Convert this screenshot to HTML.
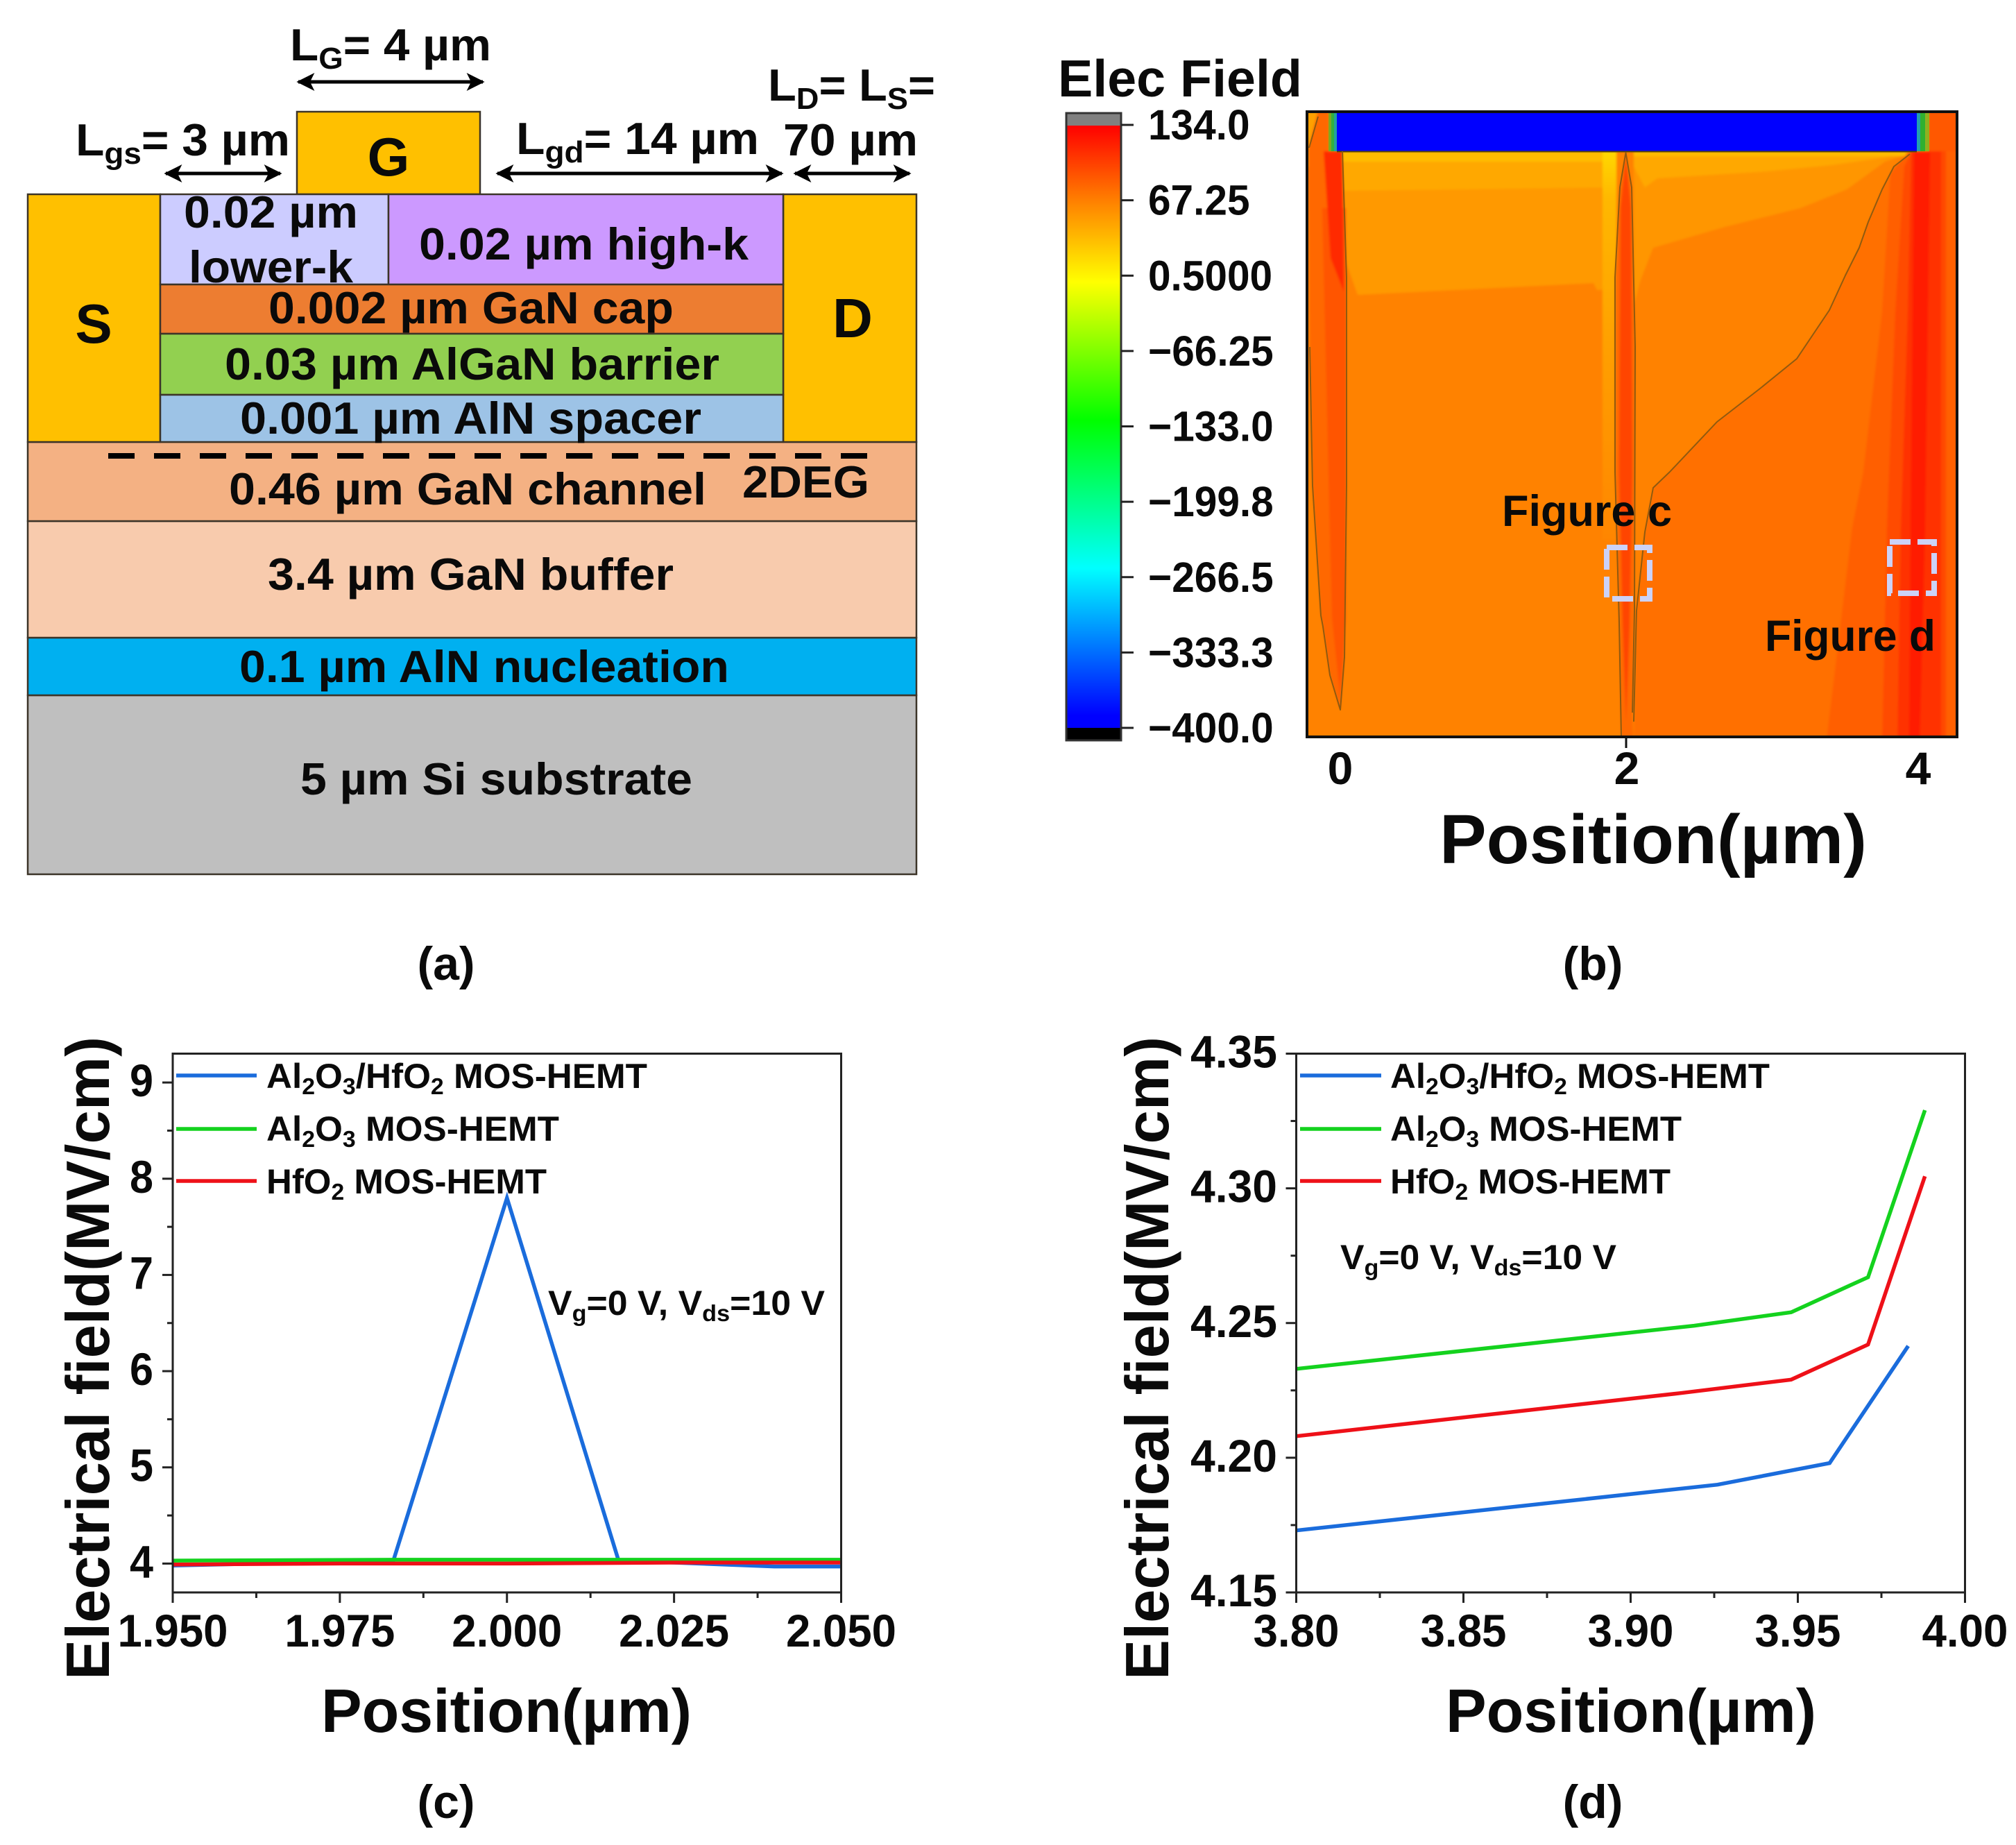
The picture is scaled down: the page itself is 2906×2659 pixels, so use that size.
<!DOCTYPE html>
<html lang="en">
<head>
<meta charset="utf-8">
<title>MOS-HEMT structure and electric field</title>
<style>
html,body{margin:0;padding:0;background:#fff;}
svg{display:block;}
text{font-family:"Liberation Sans",Arial,sans-serif;font-weight:bold;fill:#0a0a0a;}
</style>
</head>
<body>
<svg id="figure" xmlns="http://www.w3.org/2000/svg" width="2906" height="2659" viewBox="0 0 2906 2659">
<defs>
<marker id="arrow-head" viewBox="0 0 10 10" refX="9" refY="5" markerUnits="userSpaceOnUse" markerWidth="28" markerHeight="26" orient="auto-start-reverse"><path d="M0,0 L10,5 L0,10 L2.5,5 Z" fill="#000"/></marker>
<linearGradient id="colorbar-gradient" x1="0" y1="0" x2="0" y2="1">
<stop offset="0" stop-color="#ff0000"/><stop offset="0.125" stop-color="#ff8000"/><stop offset="0.26" stop-color="#ffff00"/><stop offset="0.49" stop-color="#00ff00"/><stop offset="0.735" stop-color="#00ffff"/><stop offset="0.98" stop-color="#0000ff"/><stop offset="1" stop-color="#0000ff"/>
</linearGradient>
<linearGradient id="yellow-strip" x1="0" y1="0" x2="0" y2="1">
<stop offset="0" stop-color="#ffd800"/><stop offset="0.12" stop-color="#ffb800"/><stop offset="0.5" stop-color="#ffa000"/><stop offset="1" stop-color="#ff8600"/>
</linearGradient>
<clipPath id="heatmap-clip"><rect x="1884" y="161" width="937" height="901"/></clipPath>
<filter id="soft-edges" x="-2%" y="-2%" width="104%" height="104%"><feGaussianBlur stdDeviation="1.6"/></filter>
</defs>

<g id="panel-a" stroke="#3c3428" stroke-width="2.5">
<rect x="40" y="1002" width="1281" height="258" fill="#bfbfbf"/>
<rect x="40" y="919" width="1281" height="83" fill="#00b0f0"/>
<rect x="40" y="751" width="1281" height="168" fill="#f8cbad"/>
<rect x="40" y="637" width="1281" height="114" fill="#f4b183"/>
<rect x="40" y="280" width="191" height="357" fill="#ffc000"/>
<rect x="1129" y="280" width="192" height="357" fill="#ffc000"/>
<rect x="428" y="161" width="264" height="119" fill="#ffc000"/>
<rect x="231" y="280" width="329" height="130" fill="#ccccff"/>
<rect x="560" y="280" width="569" height="130" fill="#cc99ff"/>
<rect x="231" y="410" width="898" height="71" fill="#ed7d31"/>
<rect x="231" y="481" width="898" height="88" fill="#92d050"/>
<rect x="231" y="569" width="898" height="68" fill="#9dc3e6"/>
</g>
<line x1="156" y1="657" x2="1250" y2="657" stroke="#000" stroke-width="8" stroke-dasharray="38 28"/>
<g stroke="#000" stroke-width="5">
<line x1="430" y1="118" x2="696" y2="118" marker-start="url(#arrow-head)" marker-end="url(#arrow-head)"/>
<line x1="239" y1="250" x2="404" y2="250" marker-start="url(#arrow-head)" marker-end="url(#arrow-head)"/>
<line x1="717" y1="250" x2="1127" y2="250" marker-start="url(#arrow-head)" marker-end="url(#arrow-head)"/>
<line x1="1146" y1="250" x2="1311" y2="250" marker-start="url(#arrow-head)" marker-end="url(#arrow-head)"/>
</g>
<g font-size="65">
<text x="418" y="87" textLength="290" lengthAdjust="spacingAndGlyphs">L<tspan font-size="44" dy="12">G</tspan><tspan dy="-12">= 4 µm</tspan></text>
<text x="109" y="224" textLength="309" lengthAdjust="spacingAndGlyphs">L<tspan font-size="44" dy="12">gs</tspan><tspan dy="-12">= 3 µm</tspan></text>
<text x="744" y="222" textLength="350" lengthAdjust="spacingAndGlyphs">L<tspan font-size="44" dy="12">gd</tspan><tspan dy="-12">= 14 µm</tspan></text>
<text x="1107" y="145" textLength="241" lengthAdjust="spacingAndGlyphs">L<tspan font-size="44" dy="12">D</tspan><tspan dy="-12">= L</tspan><tspan font-size="44" dy="12">S</tspan><tspan dy="-12">=</tspan></text>
<text x="1129" y="224" textLength="194" lengthAdjust="spacingAndGlyphs">70 µm</text>
<text x="560" y="253" font-size="78" text-anchor="middle">G</text>
<text x="135" y="494" font-size="80" text-anchor="middle">S</text>
<text x="1229" y="486" font-size="80" text-anchor="middle">D</text>
<text x="265" y="328" textLength="251" lengthAdjust="spacingAndGlyphs">0.02 µm</text>
<text x="272" y="407" textLength="237" lengthAdjust="spacingAndGlyphs">lower-k</text>
<text x="604" y="374" textLength="475" lengthAdjust="spacingAndGlyphs">0.02 µm high-k</text>
<text x="387" y="466" textLength="584" lengthAdjust="spacingAndGlyphs">0.002 µm GaN cap</text>
<text x="324" y="547" textLength="713" lengthAdjust="spacingAndGlyphs">0.03 µm AlGaN barrier</text>
<text x="346" y="625" textLength="665" lengthAdjust="spacingAndGlyphs">0.001 µm AlN spacer</text>
<text x="330" y="727" textLength="688" lengthAdjust="spacingAndGlyphs">0.46 µm GaN channel</text>
<text x="1070" y="717" textLength="183" lengthAdjust="spacingAndGlyphs">2DEG</text>
<text x="386" y="850" textLength="585" lengthAdjust="spacingAndGlyphs">3.4 µm GaN buffer</text>
<text x="345" y="983" textLength="706" lengthAdjust="spacingAndGlyphs">0.1 µm AlN nucleation</text>
<text x="433" y="1145" textLength="565" lengthAdjust="spacingAndGlyphs">5 µm Si substrate</text>
</g>

<g id="panel-b">
<text x="1525" y="139" font-size="75" textLength="352" lengthAdjust="spacingAndGlyphs">Elec Field</text>
<rect x="1537" y="163" width="79" height="18" fill="#808080"/>
<rect x="1537" y="181" width="79" height="868" fill="url(#colorbar-gradient)"/>
<rect x="1537" y="1049" width="79" height="18" fill="#000"/>
<rect x="1537" y="163" width="79" height="904" fill="none" stroke="#333" stroke-width="3"/>
<g id="colorbar-ticks"></g>

<g clip-path="url(#heatmap-clip)">
<g filter="url(#soft-edges)">
<rect x="1870" y="150" width="965" height="925" fill="#ff8200"/>
<path d="M1870,150 L1902,150 L1887,213 L1887,240 L1870,240 Z" fill="#ffa000"/>
<path d="M1935,218 L2329,218 L2329,417 L2302,418 L2297,408 L1957,425 L1941,380 Z" fill="#ff9900"/>
<path d="M1935,218 L2329,218 L2329,270 L1936,275 Z" fill="#ffa800"/>
<rect x="1935" y="218" width="394" height="15" fill="#ffbc00"/>
<path d="M2355,218 L2756,218 L2750,222 L2717,233 L2662,273 L2595,300 L2486,327 L2383,357 L2365,403 L2355,440 Z" fill="#ff9600"/>
<path d="M2355,218 L2756,218 L2717,227 L2640,238 L2547,247 L2389,257 L2371,270 L2355,240 Z" fill="#ffa800"/>
<rect x="2355" y="218" width="392" height="7" fill="#ffbc00"/>
<rect x="2310" y="218" width="20" height="560" fill="url(#yellow-strip)"/>
<path d="M2760,218 L2753,222 L2730,240 L2713,273 L2693,320 L2680,357 L2660,397 L2637,447 L2590,517 L2537,560 L2475,608 L2407,680 L2383,703 L2371,767 L2359,880 L2355,1075 L2835,1075 L2835,218 Z" fill="#ff7000"/>
<path d="M2752,218 L2725,250 L2713,450 L2686,680 L2670,760 L2632,1075 L2835,1075 L2835,218 Z" fill="#ff5e00"/>
<path d="M2756,218 L2745,240 L2732,450 L2720,760 L2713,1075 L2835,1075 L2835,218 Z" fill="#ff4c00"/>
<rect x="2780" y="150" width="55" height="925" fill="#ff4800"/>
<rect x="2805" y="150" width="30" height="925" fill="#ff6000"/>
<path d="M2755,218 L2750,450 L2740,760 L2735,1075 L2798,1075 L2798,218 Z" fill="#ff3200"/>
<path d="M2759,218 L2782,218 L2775,760 L2767,1075 L2752,1075 L2754,760 Z" fill="#ff1c00"/>
<path d="M2780,150 L2835,150 L2835,218 L2780,218 Z" fill="#ff5800"/>
<path d="M1902,150 L1886,213 L1888,500 L1892,700 L1904,887 L1907,903 L1917,973 L1932,1023 L1938,947 L1941,700 L1941,400 L1935,218 L1915,218 L1915,150 Z" fill="#ff6800"/>
<path d="M1906,300 L1940,300 L1940,890 L1932,1005 L1920,890 Z" fill="#ff5400"/>
<path d="M1908,218 L1935,218 L1937,420 L1918,372 Z" fill="#ff2c00"/>
<path d="M2343.5,220 L2335,270 L2328,400 L2328,680 L2334,897 L2337,1075 L2355,1075 L2353,1027 L2356,880 L2357,500 L2352,270 Z" fill="#ff6a00"/>
<path d="M2343.5,226 L2336,300 L2334,680 L2339,900 L2344,1040 L2349,900 L2353,680 L2351,300 Z" fill="#ff4400"/>
</g>
<rect x="1927" y="161" width="836" height="57" fill="#0000ff"/>
<rect x="1915" y="161" width="4" height="57" fill="#80a820"/>
<rect x="1919" y="161" width="4" height="57" fill="#30b040"/>
<rect x="1923" y="161" width="4" height="57" fill="#20a0a0"/>
<rect x="2763" y="161" width="5" height="57" fill="#20a0b0"/>
<rect x="2768" y="161" width="7" height="57" fill="#30b030"/>
<rect x="2775" y="161" width="6" height="57" fill="#90b020"/>
<line x1="1927" y1="218.5" x2="2763" y2="218.5" stroke="#5a4800" stroke-width="2"/>
<g fill="none" stroke="#8f5a10" stroke-width="2" stroke-linejoin="round">
<path d="M1900,168 L1887,213 M1888,500 L1892,700 L1904,887 L1907,903 L1917,973 L1932,1023 L1938,947 L1941,700 L1941,400 L1935,218"/>
<path d="M2337,1062 L2334,897 L2328,680 L2328,400 L2335,270 L2343.5,220 L2352,270 L2357,500 L2356,880 L2353,1027"/>
<path d="M2753,222 L2730,240 L2713,273 L2693,320 L2680,357 L2660,397 L2637,447 L2590,517 L2537,560 L2475,608 L2407,680 L2383,703 L2371,767 L2359,880 L2355,1040"/>
</g>
<rect x="2316" y="789" width="62" height="74" fill="none" stroke="#ccd2f8" stroke-width="8" stroke-dasharray="30 10"/>
<rect x="2724" y="781" width="64" height="74" fill="none" stroke="#ccd2f8" stroke-width="8" stroke-dasharray="30 10"/>
<text x="2165" y="758" font-size="63" textLength="245" lengthAdjust="spacingAndGlyphs">Figure c</text>
<text x="2544" y="938" font-size="63" textLength="246" lengthAdjust="spacingAndGlyphs">Figure d</text>
</g>
<rect x="1884" y="161" width="937" height="901" fill="none" stroke="#111" stroke-width="4"/>
<line x1="2344" y1="1062" x2="2344" y2="1078" stroke="#111" stroke-width="3"/>
<text x="1932" y="1130" font-size="66" text-anchor="middle">0</text>
<text x="2345" y="1130" font-size="66" text-anchor="middle">2</text>
<text x="2765" y="1130" font-size="66" text-anchor="middle">4</text>
<text x="2075" y="1244" font-size="100" textLength="616" lengthAdjust="spacingAndGlyphs">Position(µm)</text>
</g>

<text x="643" y="1412" font-size="68" text-anchor="middle">(a)</text>
<text x="2296" y="1412" font-size="68" text-anchor="middle">(b)</text>
<text x="643" y="2620" font-size="68" text-anchor="middle">(c)</text>
<text x="2296" y="2620" font-size="68" text-anchor="middle">(d)</text>

<g id="panel-c">
<g id="chart-c-marks"></g>
<text transform="translate(157,2421) rotate(-90)" font-size="88" textLength="927" lengthAdjust="spacingAndGlyphs">Electrical field(MV/cm)</text>
<text x="463" y="2496" font-size="88" textLength="534" lengthAdjust="spacingAndGlyphs">Position(µm)</text>
<text x="384" y="1568" font-size="50" textLength="549" lengthAdjust="spacingAndGlyphs">Al<tspan font-size="33" dy="9">2</tspan><tspan dy="-9">O</tspan><tspan font-size="33" dy="9">3</tspan><tspan dy="-9">/HfO</tspan><tspan font-size="33" dy="9">2</tspan><tspan dy="-9"> MOS-HEMT</tspan></text>
<text x="384" y="1644" font-size="50" textLength="422" lengthAdjust="spacingAndGlyphs">Al<tspan font-size="33" dy="9">2</tspan><tspan dy="-9">O</tspan><tspan font-size="33" dy="9">3</tspan><tspan dy="-9"> MOS-HEMT</tspan></text>
<text x="384" y="1720" font-size="50" textLength="404" lengthAdjust="spacingAndGlyphs">HfO<tspan font-size="33" dy="9">2</tspan><tspan dy="-9"> MOS-HEMT</tspan></text>
<text x="790" y="1895" font-size="50" textLength="399" lengthAdjust="spacingAndGlyphs">V<tspan font-size="33" dy="9">g</tspan><tspan dy="-9">=0 V, V</tspan><tspan font-size="33" dy="9">ds</tspan><tspan dy="-9">=10 V</tspan></text>
</g>

<g id="panel-d">
<g id="chart-d-marks"></g>
<text transform="translate(1684,2421) rotate(-90)" font-size="88" textLength="927" lengthAdjust="spacingAndGlyphs">Electrical field(MV/cm)</text>
<text x="2084" y="2496" font-size="88" textLength="534" lengthAdjust="spacingAndGlyphs">Position(µm)</text>
<text x="2004" y="1568" font-size="50" textLength="547" lengthAdjust="spacingAndGlyphs">Al<tspan font-size="33" dy="9">2</tspan><tspan dy="-9">O</tspan><tspan font-size="33" dy="9">3</tspan><tspan dy="-9">/HfO</tspan><tspan font-size="33" dy="9">2</tspan><tspan dy="-9"> MOS-HEMT</tspan></text>
<text x="2004" y="1644" font-size="50" textLength="420" lengthAdjust="spacingAndGlyphs">Al<tspan font-size="33" dy="9">2</tspan><tspan dy="-9">O</tspan><tspan font-size="33" dy="9">3</tspan><tspan dy="-9"> MOS-HEMT</tspan></text>
<text x="2004" y="1720" font-size="50" textLength="404" lengthAdjust="spacingAndGlyphs">HfO<tspan font-size="33" dy="9">2</tspan><tspan dy="-9"> MOS-HEMT</tspan></text>
<text x="1932" y="1829" font-size="50" textLength="398" lengthAdjust="spacingAndGlyphs">V<tspan font-size="33" dy="9">g</tspan><tspan dy="-9">=0 V, V</tspan><tspan font-size="33" dy="9">ds</tspan><tspan dy="-9">=10 V</tspan></text>
</g>
</svg>

<script>
// Colorbar data
const colorbarLabels = ['134.0', '67.25', '0.5000', '\u221266.25', '\u2212133.0', '\u2212199.8', '\u2212266.5', '\u2212333.3', '\u2212400.0'];

// Panel (c) data
const chartCXTicks = [1.95, 1.975, 2.0, 2.025, 2.05];
const chartCXTickLabels = ['1.950', '1.975', '2.000', '2.025', '2.050'];
const chartCYTicks = [4, 5, 6, 7, 8, 9];
const chartCYTickLabels = ['4', '5', '6', '7', '8', '9'];
const chartCBlueX = [1.95, 1.983, 2.0, 2.0167, 2.025, 2.04, 2.05];
const chartCBlueY = [3.98, 4.03, 7.8, 4.03, 4.01, 3.97, 3.97];
const chartCGreenX = [1.95, 1.983, 2.0167, 2.05];
const chartCGreenY = [4.03, 4.04, 4.04, 4.04];
const chartCRedX = [1.95, 1.975, 2.0, 2.025, 2.05];
const chartCRedY = [3.99, 4.0, 4.0, 4.01, 4.01];

// Panel (d) data
const chartDXTicks = [3.8, 3.85, 3.9, 3.95, 4.0];
const chartDXTickLabels = ['3.80', '3.85', '3.90', '3.95', '4.00'];
const chartDYTicks = [4.15, 4.2, 4.25, 4.3, 4.35];
const chartDYTickLabels = ['4.15', '4.20', '4.25', '4.30', '4.35'];
const chartDBlueX = [3.8, 3.926, 3.9595, 3.983];
const chartDBlueY = [4.173, 4.19, 4.198, 4.2415];
const chartDGreenX = [3.8, 3.919, 3.948, 3.971, 3.988];
const chartDGreenY = [4.233, 4.249, 4.254, 4.267, 4.329];
const chartDRedX = [3.8, 3.915, 3.948, 3.971, 3.988];
const chartDRedY = [4.208, 4.224, 4.229, 4.242, 4.3045];

const NS = 'http://www.w3.org/2000/svg';
const BLUE = '#1a6cdc', GREEN = '#14d21e', RED = '#ee1018';

function svgEl(tag, parent, attrs) {
  const el = document.createElementNS(NS, tag);
  for (const k in attrs) el.setAttribute(k, attrs[k]);
  parent.appendChild(el);
  return el;
}

function drawColorbarTicks() {
  const g = document.getElementById('colorbar-ticks');
  const top = 180, step = (1049 - 180) / (colorbarLabels.length - 1);
  colorbarLabels.forEach(function (label, i) {
    const y = top + i * step;
    const t = svgEl('line', g, {x1: 1616, x2: 1634, y1: y, y2: y, stroke: '#222', 'stroke-width': 3});
    
    
    const s = svgEl('text', g, {transform: 'translate(1655,' + (y + 21) + ') scale(0.96,1)', 'font-size': 61});
    
    
    s.textContent = label;
  });
}

function drawChart(cfg) {
  const g = document.getElementById(cfg.target);
  const xScale = function (v) { return cfg.left + (v - cfg.xMin) / (cfg.xMax - cfg.xMin) * (cfg.right - cfg.left); };
  const yScale = function (v) { return cfg.bottom - (v - cfg.yMin) / (cfg.yMax - cfg.yMin) * (cfg.bottom - cfg.top); };

  const majorX = cfg.xTicks;
  const majorY = cfg.yTicks;

  majorX.forEach(function (v, i) {
    const x = xScale(v);
    const t = svgEl('line', g, {x1: x, x2: x, y1: cfg.bottom, y2: cfg.bottom + 15, stroke: '#222', 'stroke-width': 3});
    
    
    const s = svgEl('text', g, {x: x, y: cfg.bottom + 78, 'font-size': 66, 'text-anchor': 'middle', textLength: cfg.xLabelWidth, lengthAdjust: 'spacingAndGlyphs'});
    
    
    s.textContent = cfg.xLabels[i];
    if (i < majorX.length - 1) {
      const mx = xScale((v + majorX[i + 1]) / 2);
      const m = svgEl('line', g, {x1: mx, x2: mx, y1: cfg.bottom, y2: cfg.bottom + 8, stroke: '#222', 'stroke-width': 3});
      
      
    }
  });

  majorY.forEach(function (v, i) {
    const y = yScale(v);
    const t = svgEl('line', g, {x1: cfg.left - 15, x2: cfg.left, y1: y, y2: y, stroke: '#222', 'stroke-width': 3});
    
    
    const s = svgEl('text', g, {x: cfg.yLabelX, y: y + 20, 'font-size': 66, 'text-anchor': 'end', textLength: cfg.yLabelWidth, lengthAdjust: 'spacingAndGlyphs'});
    
    
    s.textContent = cfg.yLabels[i];
    if (i < majorY.length - 1) {
      const my = yScale((v + majorY[i + 1]) / 2);
      const m = svgEl('line', g, {x1: cfg.left - 8, x2: cfg.left, y1: my, y2: my, stroke: '#222', 'stroke-width': 3});
      
      
    }
  });

  cfg.series.forEach(function (sr) {
    const pts = sr.x.map(function (v, i) { return xScale(v).toFixed(1) + ',' + yScale(sr.y[i]).toFixed(1); }).join(' ');
    const line = svgEl('polyline', g, {points: pts, fill: 'none', stroke: sr.color, 'stroke-width': 5.5, 'stroke-linejoin': 'miter'});
    
    
  });

  cfg.legendYs.forEach(function (y, i) {
    const l = svgEl('line', g, {x1: cfg.legendX1, x2: cfg.legendX2, y1: y, y2: y, stroke: cfg.series[i].color, 'stroke-width': 5.5});
    
    
  });

  const frame = svgEl('rect', g, {x: cfg.left, y: cfg.top, width: cfg.right - cfg.left, height: cfg.bottom - cfg.top, fill: 'none', stroke: '#222', 'stroke-width': 3});
  
  
}

drawColorbarTicks();

drawChart({
  target: 'chart-c-marks',
  left: 249, right: 1212.5, top: 1518.5, bottom: 2295,
  xMin: 1.95, xMax: 2.05, yMin: 3.7, yMax: 9.3,
  xTicks: chartCXTicks, xLabels: chartCXTickLabels,
  yTicks: chartCYTicks, yLabels: chartCYTickLabels,
  xLabelWidth: 159, yLabelX: 221, yLabelWidth: 34,
  legendX1: 254, legendX2: 370, legendYs: [1550, 1627, 1702],
  series: [
    {name: 'series-al2o3-hfo2', x: chartCBlueX, y: chartCBlueY, color: BLUE},
    {name: 'series-al2o3', x: chartCGreenX, y: chartCGreenY, color: GREEN},
    {name: 'series-hfo2', x: chartCRedX, y: chartCRedY, color: RED}
  ]
});

drawChart({
  target: 'chart-d-marks',
  left: 1868.5, right: 2832.5, top: 1518.5, bottom: 2295,
  xMin: 3.8, xMax: 4.0, yMin: 4.15, yMax: 4.35,
  xTicks: chartDXTicks, xLabels: chartDXTickLabels,
  yTicks: chartDYTicks, yLabels: chartDYTickLabels,
  xLabelWidth: 124, yLabelX: 1841, yLabelWidth: 125,
  legendX1: 1874, legendX2: 1991, legendYs: [1550, 1627, 1702],
  series: [
    {name: 'series-al2o3-hfo2', x: chartDBlueX, y: chartDBlueY, color: BLUE},
    {name: 'series-al2o3', x: chartDGreenX, y: chartDGreenY, color: GREEN},
    {name: 'series-hfo2', x: chartDRedX, y: chartDRedY, color: RED}
  ]
});
</script>
</body>
</html>
